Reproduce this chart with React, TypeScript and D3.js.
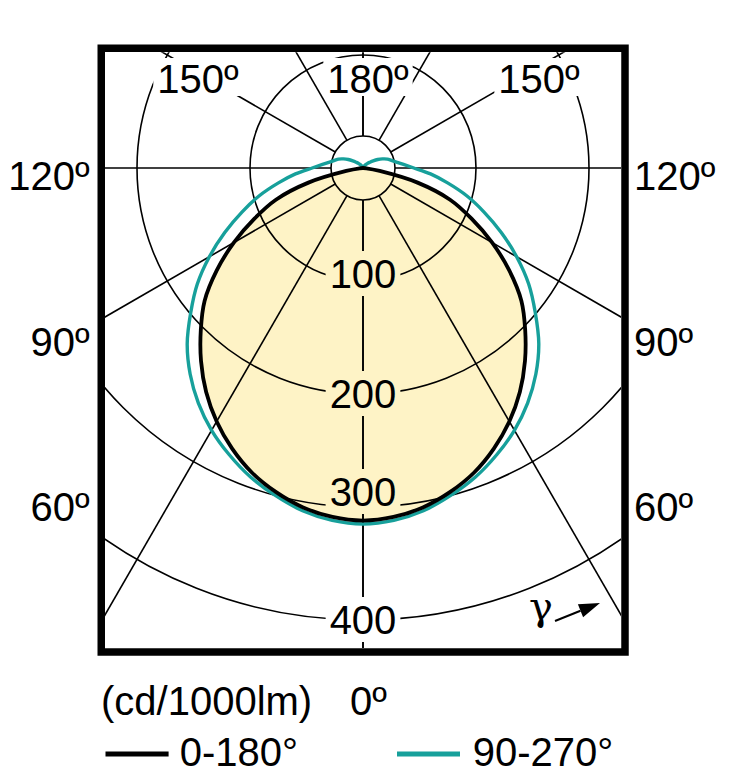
import React from 'react';
import * as d3 from 'd3';

// gamma angles (deg) at which the intensities were read
const gammaDeg = [0, 5, 10, 15, 20, 25, 30, 35, 40, 45, 50, 55, 60, 65, 70, 75, 80, 85, 90,
  95, 100, 105, 110, 115, 120, 125, 130, 135, 140, 145, 150, 155, 160, 165, 170, 175, 180];
// cd/1000lm, plane 0-180 (black, filled)
const plane0_180 = [312, 310, 305, 297, 287, 274, 259, 242, 223, 203, 183, 158, 132, 106, 82, 50, 15, 3, 0,
  0, 0, 0, 0, 0, 0, 0, 0, 0, 0, 0, 0, 0, 0, 0, 0, 0, 0];
// cd/1000lm, plane 90-270 (teal)
const plane90_270 = [315, 313, 308, 300, 291, 280, 268, 254, 238, 220, 199, 179, 157, 135, 114, 95, 76, 60, 45,
  36, 30, 26, 23, 19, 15, 11, 8, 6, 4, 3, 2, 1, 1, 0, 0, 0, 0];

const ringValues = [100, 200, 300, 400];
const spokeDeg = [0, 30, 60, 90, 120, 150, 180];
const topLabels = ['150º', '180º', '150º'];
const sideLabels = ['120º', '90º', '60º'];
const unitLabel = '(cd/1000lm)';
const zeroLabel = '0º';
const legendLabels = ['0-180°', '90-270°'];

const W = 733;
const H = 783;
const CX = 363;
const CY = 168;
const HUB = 32;
const inner = { x: 105, y: 52.3, w: 516, h: 595.7 };
const FONT = '"Liberation Sans", Arial, sans-serif';
const FS = 40;
const TEAL = '#17A09B';
const YELLOW = '#FEF3C6';

const r = d3.scaleLinear().domain([0, 400]).range([0, 452]);

const ctx = typeof document !== 'undefined' ? document.createElement('canvas').getContext('2d') : null;
function textWidth(s: string) {
  if (ctx) {
    ctx.font = `${FS}px "Liberation Sans"`;
    return ctx.measureText(s).width;
  }
  return s.length * FS * 0.55;
}

const rad = (d: number) => (d * Math.PI) / 180;

function polarPoints(values: number[]): [number, number][] {
  const pt = (g: number, v: number, side: number): [number, number] => [
    CX + side * r(v) * Math.sin(rad(g)),
    CY + r(v) * Math.cos(rad(g)),
  ];
  const right = gammaDeg.map((g, i) => pt(g, values[i], 1));
  const left = gammaDeg.slice(1, -1).map((g, i) => pt(g, values[i + 1], -1)).reverse();
  const all = [...right, ...left];
  // drop repeated points (zeros collapse to the centre)
  return all.filter((p, i) => {
    const q = all[(i + all.length - 1) % all.length];
    return Math.hypot(p[0] - q[0], p[1] - q[1]) > 0.05;
  });
}

const line = d3.line<[number, number]>().curve(d3.curveCatmullRomClosed.alpha(0.5));

export default function App() {
  const pathBlack = line(polarPoints(plane0_180)) || '';
  const pathTeal = line(polarPoints(plane90_270)) || '';

  // label placement
  const topX = [198, 368, 539];
  const topBase = 93;
  const ringNudge = [7, 0, 15, 0];
  const ringBase = ringValues.map((v, i) => CY + r(v) + 14 - ringNudge[i]);
  const sideBase = [189.5, 355.5, 521];

  const gaps = [
    ...topLabels.map((t, i) => ({ cx: topX[i], w: textWidth(t), y0: topBase - 35, y1: topBase + 3 })),
    ...ringValues.map((v, i) => ({ cx: CX, w: textWidth(String(v)), y0: ringBase[i] - 37, y1: ringBase[i] + 8 })),
  ];

  const arrowStart: [number, number] = [555, 621];
  const arrowTip: [number, number] = [600, 603];
  const ang = Math.atan2(arrowTip[1] - arrowStart[1], arrowTip[0] - arrowStart[0]);
  const hl = 21;
  const hw = 7;
  const base: [number, number] = [arrowTip[0] - hl * Math.cos(ang), arrowTip[1] - hl * Math.sin(ang)];
  const head = [
    arrowTip,
    [base[0] + hw * Math.sin(ang), base[1] - hw * Math.cos(ang)],
    [base[0] - hw * Math.sin(ang), base[1] + hw * Math.cos(ang)],
  ].map(p => p.join(',')).join(' ');

  return (
    <svg width={W} height={H} style={{ position: 'absolute', left: 0, top: 0, background: '#fff' }}>
      <defs>
        <clipPath id="plotClip">
          <rect x={inner.x} y={inner.y} width={inner.w} height={inner.h} />
        </clipPath>
        <mask id="labelGaps" maskUnits="userSpaceOnUse" x={0} y={0} width={W} height={H}>
          <rect x={0} y={0} width={W} height={H} fill="#fff" />
          {gaps.map((g, i) => (
            <rect key={i} x={g.cx - g.w / 2 - 4} y={g.y0} width={g.w + 8} height={g.y1 - g.y0} fill="#000" />
          ))}
        </mask>
      </defs>

      <g clipPath="url(#plotClip)">
        <path d={pathBlack} fill={YELLOW} stroke="none" />
        <g mask="url(#labelGaps)" stroke="#000" strokeWidth={1.6} fill="none">
          {ringValues.map(v => (
            <circle key={v} cx={CX} cy={CY} r={r(v)} />
          ))}
          {spokeDeg.flatMap(g => [1, -1].map(side => (
            <line
              key={`${g}-${side}`}
              x1={CX + side * HUB * Math.sin(rad(g))}
              y1={CY + HUB * Math.cos(rad(g))}
              x2={CX + side * 900 * Math.sin(rad(g))}
              y2={CY + 900 * Math.cos(rad(g))}
            />
          )))}
          <circle cx={CX} cy={CY} r={HUB} />
        </g>
        <path d={pathTeal} fill="none" stroke={TEAL} strokeWidth={3.4} strokeLinejoin="round" />
        <path d={pathBlack} fill="none" stroke="#000" strokeWidth={3.8} strokeLinejoin="round" />
      </g>

      <g fontFamily={FONT} fontSize={FS} fill="#000">
        {topLabels.map((t, i) => (
          <text key={i} x={topX[i]} y={topBase} textAnchor="middle">{t}</text>
        ))}
        {ringValues.map((v, i) => (
          <text key={v} x={CX} y={ringBase[i]} textAnchor="middle">{v}</text>
        ))}
        {sideLabels.map((t, i) => (
          <g key={t}>
            <text x={89.5} y={sideBase[i]} textAnchor="end">{t}</text>
            <text x={634} y={sideBase[i]} textAnchor="start">{t}</text>
          </g>
        ))}
        <text x={101} y={715}>{unitLabel}</text>
        <text x={350} y={715}>{zeroLabel}</text>
        <text x={179.7} y={766}>{legendLabels[0]}</text>
        <text x={472.8} y={766}>{legendLabels[1]}</text>
      </g>

      <line x1={105.5} x2={168.6} y1={754} y2={754} stroke="#000" strokeWidth={5} />
      <line x1={397} x2={460} y1={754} y2={754} stroke={TEAL} strokeWidth={5} />

      <text x={541} y={620} textAnchor="middle" fontFamily='"DejaVu Serif", serif' fontSize={40}>γ</text>
      <line x1={arrowStart[0]} y1={arrowStart[1]} x2={base[0]} y2={base[1]} stroke="#000" strokeWidth={2} />
      <polygon points={head} fill="#000" />

      <rect x={101.25} y={48.25} width={523.75} height={603.75} fill="none" stroke="#000" strokeWidth={7.5} />
    </svg>
  );
}
